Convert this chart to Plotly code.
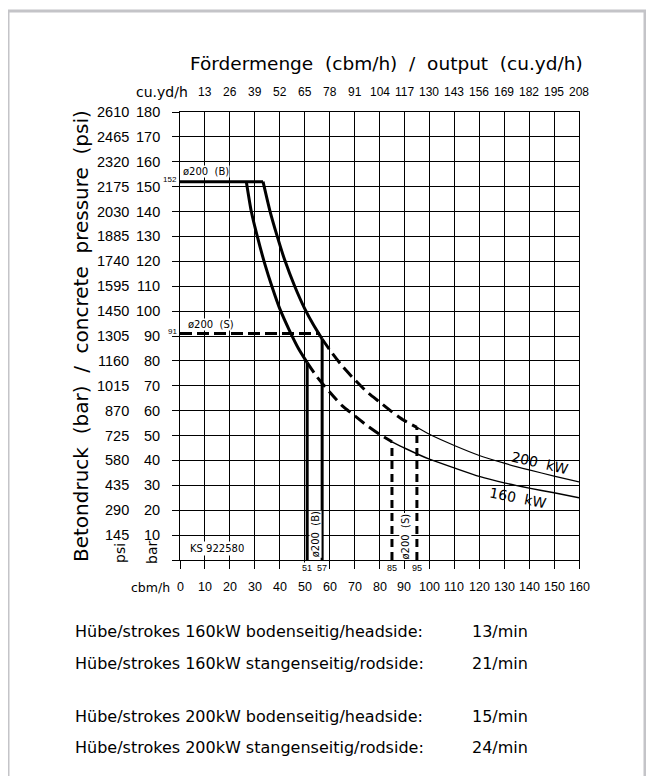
import plotly.graph_objects as go

# ---------------- data ----------------
cbm_ticks = [0, 10, 20, 30, 40, 50, 60, 70, 80, 90, 100, 110, 120, 130, 140, 150, 160]
cuyd_pos = [10, 20, 30, 40, 50, 60, 70, 80, 90, 100, 110, 120, 130, 140, 150, 160]
cuyd_labels = ["13", "26", "39", "52", "65", "78", "91", "104", "117", "130",
               "143", "156", "169", "182", "195", "208"]
bar_ticks = [10, 20, 30, 40, 50, 60, 70, 80, 90, 100, 110, 120, 130, 140, 150, 160, 170, 180]
psi_labels = ["145", "290", "435", "580", "725", "870", "1015", "1160", "1305", "1450",
              "1595", "1740", "1885", "2030", "2175", "2320", "2465", "2610"]

# max pressure plateau (piston side, B) and rod side (S)
cap_B_x = [0, 33.3]
cap_B_y = [152, 152]
cap_S_x = [0, 56]
cap_S_y = [91, 91]

# 160 kW curve
kw160_solid_x = [26.6, 28.6, 31, 34, 37, 40, 44, 47.5, 51]
kw160_solid_y = [152, 140, 130, 119, 109.5, 101, 92, 85, 79.3]
kw160_dash_x = [51, 55, 60, 65, 70, 75, 80, 85]
kw160_dash_y = [79.3, 73.5, 67.5, 62, 58, 54, 50.5, 47.5]
kw160_thin_x = [85, 90, 100, 110, 120, 130, 140, 150, 160]
kw160_thin_y = [47.5, 45, 40.5, 37, 33.6, 31, 28.9, 27, 25]

# 200 kW curve
kw200_solid_x = [33.3, 36, 39, 42, 46, 50, 53.5, 57]
kw200_solid_y = [152, 140.5, 130, 120.5, 110, 101, 94.5, 88.8]
kw200_dash_x = [57, 60, 65, 70, 75, 80, 85, 90, 95]
kw200_dash_y = [88.8, 84.5, 78, 72.5, 67.5, 63.5, 59.5, 56, 53.3]
kw200_thin_x = [95, 100, 110, 120, 130, 140, 150, 160]
kw200_thin_y = [53.3, 50.5, 46, 42, 38.9, 36.2, 33.7, 31.4]

# output limits (cbm/h) and the pressure where each meets its curve
limit_B_x = [51, 57]
limit_B_top = [79.3, 88.8]
limit_S_x = [85, 95]
limit_S_top = [47.5, 53.3]

strokes_labels = ["Hübe/strokes 160kW bodenseitig/headside:",
                  "Hübe/strokes 160kW stangenseitig/rodside:",
                  "Hübe/strokes 200kW bodenseitig/headside:",
                  "Hübe/strokes 200kW stangenseitig/rodside:"]
strokes_values = ["13/min", "21/min", "15/min", "24/min"]
strokes_rows_px = [631, 663, 716, 747]

# ---------------- layout helpers ----------------
W, H = 654, 776
OFF = 8  # page offset of the figure inside the browser window
PX0, PX1, PY0, PY1 = 180, 579, 112, 560  # plot area in page pixels
L, T = PX0 - OFF, PY0 - OFF
R, B = W - (PX1 - OFF), H - (PY1 - OFF)


def px(x):
    return (x - PX0) / (PX1 - PX0)


def py(y):
    return (PY1 - y) / (PY1 - PY0)


WIDE = "DejaVu Sans, Verdana, sans-serif"
NARROW = "Liberation Sans Narrow, Arial Narrow, Liberation Sans, Arial, sans-serif"
BLACK = "#000000"

fig = go.Figure()


def line(xs, ys, width, dash="solid"):
    fig.add_trace(go.Scatter(x=xs, y=ys, mode="lines", hoverinfo="skip",
                             line=dict(color=BLACK, width=width, dash=dash, shape="spline",
                                       smoothing=0.6)))


line(cap_B_x, cap_B_y, 3)
line(cap_S_x, cap_S_y, 3, "12px,5px")
line(kw160_solid_x, kw160_solid_y, 3)
line(kw160_dash_x, kw160_dash_y, 3, "12px,6px")
line(kw160_thin_x, kw160_thin_y, 1.4)
line(kw200_solid_x, kw200_solid_y, 3)
line(kw200_dash_x, kw200_dash_y, 3, "12px,6px")
line(kw200_thin_x, kw200_thin_y, 1.2)

for xv, top in zip(limit_B_x, limit_B_top):
    fig.add_trace(go.Scatter(x=[xv, xv], y=[0, top], mode="lines", hoverinfo="skip",
                             line=dict(color=BLACK, width=3)))
for xv, top in zip(limit_S_x, limit_S_top):
    fig.add_trace(go.Scatter(x=[xv, xv], y=[0, top], mode="lines", hoverinfo="skip",
                             line=dict(color=BLACK, width=3, dash="8px,5px")))

ann = []


def add(x, y, text, family, size, xref="paper", yref="paper", xanchor="center",
        yanchor="middle", **kw):
    ann.append(dict(x=x, y=y, xref=xref, yref=yref, text=text, xanchor=xanchor,
                    yanchor=yanchor, showarrow=False,
                    font=dict(family=family, size=size, color=BLACK), **kw))


# top title and top axis labels
add(px(386), py(63),
    "Fördermenge\u00a0\u00a0(cbm/h)\u00a0\u00a0/\u00a0\u00a0output\u00a0\u00a0(cu.yd/h)", WIDE, 18.5)
add(px(190), py(92), "cu.yd/h", WIDE, 14, xanchor="right")
for xv, lab in zip(cuyd_pos, cuyd_labels):
    add(xv, py(92), lab, NARROW, 12, xref="x")
# bottom axis labels
add(px(172), py(587), "cbm/h", WIDE, 12.5, xanchor="right")
for xv in cbm_ticks:
    add(xv, py(587), str(xv), NARROW, 12.5, xref="x")
# left axis labels
for yv, plab in zip(bar_ticks, psi_labels):
    add(px(162), yv, str(yv), NARROW, 14.5, yref="y", xanchor="right")
    add(px(131), yv, plab, NARROW, 14.5, yref="y", xanchor="right")
add(px(120), py(553), "psi", WIDE, 14, textangle=-90)
add(px(152), py(553), "bar", WIDE, 14, textangle=-90)
add(px(81), py(336),
    "Betondruck\u00a0\u00a0(bar)\u00a0\u00a0/\u00a0\u00a0concrete\u00a0\u00a0pressure\u00a0\u00a0(psi)",
    WIDE, 20, textangle=-90)

# in-plot labels
add(px(178.5), cap_B_y[0], "152", NARROW, 8, yref="y", xanchor="right", yanchor="bottom",
    yshift=-4)
add(px(178.5), cap_S_y[0], "91", NARROW, 8, yref="y", xanchor="right", yanchor="bottom",
    yshift=-4)
add(10.6, 156, "ø200\u00a0\u00a0(B)", WIDE, 10, xref="x", yref="y", bgcolor="white",
    borderpad=0)
add(12.3, 94.6, "ø200\u00a0\u00a0(S)", WIDE, 10, xref="x", yref="y", bgcolor="white",
    borderpad=0)
add(14.7, 4.8, "KS\u00a0922580", WIDE, 10, xref="x", yref="y", bgcolor="white", borderpad=1)
add(54.2, 10.4, "ø200\u00a0\u00a0(B)", WIDE, 10, xref="x", yref="y", textangle=-90,
    bgcolor="white", borderpad=0)
add(90.5, 9.3, "ø200\u00a0\u00a0(S)", WIDE, 10, xref="x", yref="y", textangle=-90,
    bgcolor="white", borderpad=0)
for xv in limit_B_x + limit_S_x:
    add(xv, py(568), str(xv), NARROW, 9, xref="x", bgcolor="white", borderpad=0)
add(144.4, 39, "200\u00a0\u00a0kW", WIDE, 14, xref="x", yref="y", textangle=13)
add(135.7, 24.8, "160\u00a0\u00a0kW", WIDE, 14, xref="x", yref="y", textangle=11)

# strokes table
for lab, val, ypx in zip(strokes_labels, strokes_values, strokes_rows_px):
    add(px(73), py(ypx), lab, WIDE, 16, xanchor="left")
    add(px(470), py(ypx), val, WIDE, 16, xanchor="left")

axis_common = dict(showgrid=True, gridcolor=BLACK, gridwidth=1, zeroline=False,
                   showline=True, mirror=True, linecolor=BLACK, linewidth=1,
                   ticks="outside", tickcolor=BLACK, tickwidth=1, showticklabels=False,
                   fixedrange=True)

fig.update_layout(
    width=W, height=H,
    margin=dict(l=L, r=R, t=T, b=B),
    paper_bgcolor="white", plot_bgcolor="white",
    showlegend=False,
    xaxis=dict(range=[0, 160], tickvals=cbm_ticks, ticklen=8, **axis_common),
    yaxis=dict(range=[0, 180], tickvals=[0] + bar_ticks, ticklen=7, **axis_common),
    annotations=ann,
    shapes=[dict(type="rect", xref="paper", yref="paper", x0=px(8), x1=px(645),
                 y0=py(11), y1=py(800), line=dict(color="#c4c4c8", width=3),
                 fillcolor="rgba(0,0,0,0)", layer="below")],
)

fig.write_html("out.html")
